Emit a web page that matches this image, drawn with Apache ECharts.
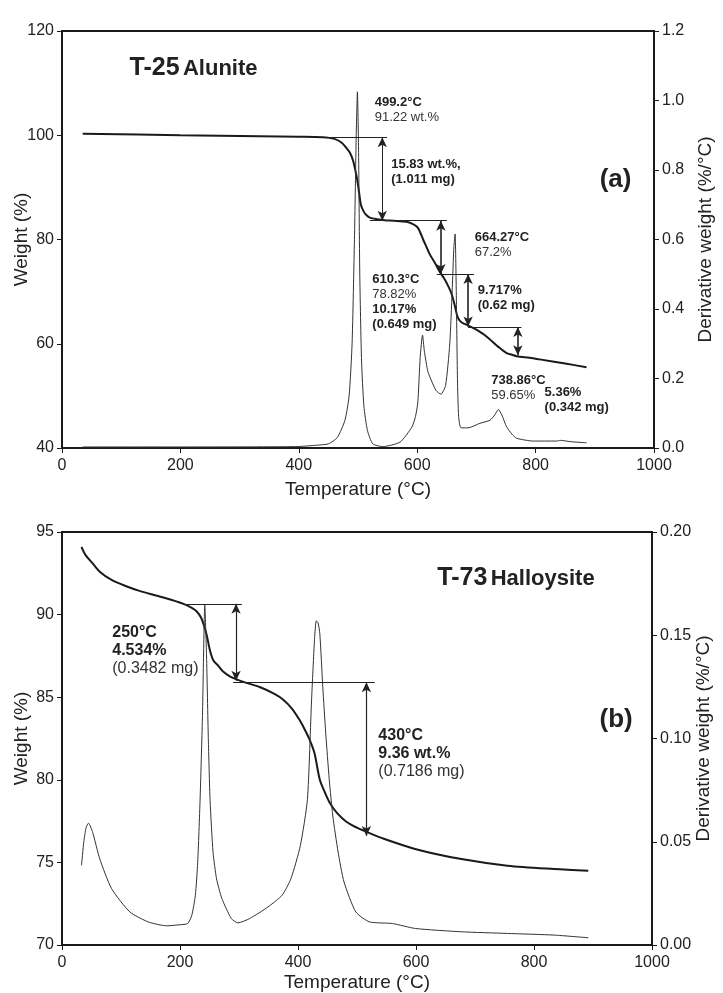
<!DOCTYPE html>
<html>
<head>
<meta charset="utf-8">
<script src="https://cdn.jsdelivr.net/npm/echarts@6/dist/echarts.min.js"></script>
<style>
    html, body { margin: 0; padding: 0; background: #fff; }
    #tgaChart { width: 723px; height: 993px; }
</style>
</head>
<body>
<div id="tgaChart"></div>
<script>
// (a) T-25 Alunite
var tgaTempA = [35, 200, 400, 440, 460, 472, 480, 487, 492, 496, 499, 502, 505, 510, 515, 520, 532, 545, 560, 582, 592, 600, 605, 610, 616, 622, 630, 638, 644, 650, 658, 664, 668, 673, 680, 690, 700, 717, 737, 751, 760, 768, 790, 807, 850, 886];
var tgaWeightA = [100.3, 100.0, 99.7, 99.6, 99.3, 98.6, 97.6, 96.5, 95.0, 93.0, 91.2, 88.9, 86.6, 85.3, 84.6, 84.2, 83.9, 83.7, 83.6, 83.4, 83.0, 82.4, 81.4, 80.0, 78.5, 77.0, 75.5, 73.8, 72.8, 71.6, 69.6, 67.1, 65.2, 64.3, 63.8, 63.3, 62.7, 61.4, 59.4, 58.2, 57.9, 57.6, 57.3, 57.0, 56.2, 55.5];
var dtgTempA = [35, 200, 395, 430, 450, 465, 478, 485, 490, 494, 497, 499, 501, 503, 506, 510, 516, 525, 542, 571, 591, 597, 601, 605, 609, 612, 618, 625, 632, 640, 648, 655, 659, 662, 664, 666, 668, 670, 674, 686, 706, 723, 731, 737, 743, 751, 760, 768, 796, 835, 842, 860, 886];
var dtgValueA = [0.003, 0.003, 0.004, 0.008, 0.012, 0.03, 0.08, 0.15, 0.3, 0.6, 0.9, 1.025, 0.85, 0.5, 0.25, 0.12, 0.05, 0.012, 0.004, 0.017, 0.06, 0.09, 0.13, 0.26, 0.325, 0.28, 0.22, 0.19, 0.165, 0.155, 0.18, 0.3, 0.45, 0.58, 0.616, 0.45, 0.2, 0.09, 0.058, 0.058, 0.071, 0.08, 0.095, 0.111, 0.095, 0.061, 0.04, 0.028, 0.02, 0.02, 0.022, 0.018, 0.015];
// step levels [from, to, weight] and arrows [temp, top, bottom]
var levelsA = [[440, 549, 99.6], [520, 650, 83.6], [633, 696, 73.4], [686, 776, 63.2]];
var arrowsA = [[541, 99.6, 83.6], [640, 83.6, 73.4], [686, 73.4, 63.3], [770, 63.2, 57.8]];
var notesA = [
    [529, 107.7, '{b|499.2°C}\n{r|91.22 wt.%}'],
    [557, 95.8, '{b|15.83 wt.%,}\n{b|(1.011 mg)}'],
    [698, 81.8, '{b|664.27°C}\n{r|67.2%}'],
    [525, 73.6, '{b|610.3°C}\n{r|78.82%}\n{b|10.17%}\n{b|(0.649 mg)}'],
    [703, 71.5, '{b|9.717%}\n{b|(0.62 mg)}'],
    [726, 54.4, '{b|738.86°C}\n{r|59.65%}'],
    [816, 52.1, '{b|5.36%}\n{b|(0.342 mg)}']
];

// (b) T-73 Halloysite
var tgaTempB = [33, 40, 52, 64, 84, 110, 130, 170, 206, 220, 228, 236, 240, 245, 251, 257, 265, 273, 285, 296, 310, 336, 360, 375, 390, 403, 412, 420, 428, 437, 446, 454, 466, 482, 500, 516, 540, 600, 677, 755, 834, 892];
var tgaWeightB = [94.1, 93.6, 93.1, 92.6, 92.1, 91.7, 91.45, 91.05, 90.65, 90.4, 90.2, 89.8, 89.4, 88.8, 87.8, 87.2, 86.9, 86.55, 86.25, 86.08, 85.9, 85.6, 85.2, 84.85, 84.3, 83.6, 83.0, 82.4, 81.6, 80.0, 79.2, 78.6, 78.0, 77.46, 77.1, 76.85, 76.5, 75.8, 75.2, 74.8, 74.6, 74.5];
var dtgTempB = [33, 37, 41, 45, 52, 64, 84, 115, 146, 177, 200, 213, 220, 226, 230, 234, 238, 242, 245, 248, 251, 256, 262, 271, 287, 298, 318, 349, 373, 388, 404, 416, 423, 428, 431, 434, 437, 442, 447, 453, 459, 468, 478, 498, 521, 560, 599, 677, 755, 834, 892];
var dtgValueB = [0.0385, 0.05, 0.057, 0.059, 0.0545, 0.0417, 0.0273, 0.016, 0.0112, 0.0093, 0.0098, 0.0104, 0.0144, 0.024, 0.04, 0.07, 0.11, 0.1646, 0.14, 0.1, 0.07, 0.045, 0.032, 0.0225, 0.0128, 0.0107, 0.0128, 0.0184, 0.0241, 0.0321, 0.0481, 0.0706, 0.1187, 0.148, 0.157, 0.156, 0.1508, 0.125, 0.1026, 0.08, 0.0625, 0.045, 0.0305, 0.016, 0.0112, 0.0104, 0.008, 0.0064, 0.0056, 0.0048, 0.0035];
var levelsB = [[205, 305, 90.65], [290, 530, 85.9]];
var arrowsB = [[295, 90.65, 86.0], [516, 85.9, 76.6]];
var notesB = [
    [86, 89.4, '{b|250°C}\n{b|4.534%}\n{r|(0.3482 mg)}'],
    [537, 83.2, '{b|430°C}\n{b|9.36 wt.%}\n{r|(0.7186 mg)}']
];

var FONT = "'Liberation Sans', Arial, sans-serif";
var INK = '#1a1a1a';

let zip = (xs, ys) => xs.map((x, i) => [x, ys[i]]);

let levelLines = (levels) => levels.map(l => [
    { coord: [l[0], l[2]], symbol: 'none' },
    { coord: [l[1], l[2]], symbol: 'none' }
]);
let arrowLines = (arrows, w) => arrows.map(a => [
    { coord: [a[0], a[1]], lineStyle: { width: w } },
    { coord: [a[0], a[2]] }
]);
let noteLabel = (fs, lh) => ({
    show: true, position: [0, 0], align: 'left', verticalAlign: 'top',
    fontFamily: FONT,
    rich: {
        b: { fontSize: fs, fontWeight: 'bold', color: '#222', lineHeight: lh, fontFamily: FONT },
        r: { fontSize: fs, color: '#333', lineHeight: lh, fontFamily: FONT }
    }
});
let notes = (list) => list.map(n => ({ coord: [n[0], n[1]], label: { formatter: n[2] } }));

function xAxisOf(idx, gap) {
    return {
        gridIndex: idx, type: 'value', min: 0, max: 1000, interval: 200,
        name: 'Temperature (°C)', nameLocation: 'middle', nameGap: gap, nameMoveOverlap: false,
        nameTextStyle: { fontFamily: FONT, fontSize: 19, color: '#222' },
        axisLine: { lineStyle: { color: INK, width: 2 } },
        axisTick: { length: 5, lineStyle: { color: INK, width: 1 } },
        axisLabel: { fontFamily: FONT, fontSize: 16, color: '#222', margin: 10, formatter: v => String(v) },
        splitLine: { show: false }
    };
}
function yAxisOf(idx, pos, min, max, step, name, digits) {
    return {
        gridIndex: idx, type: 'value', position: pos, min: min, max: max, interval: step,
        name: name, nameLocation: 'middle', nameGap: pos == 'left' ? 31 : 42, nameMoveOverlap: false,
        nameTextStyle: { fontFamily: FONT, fontSize: 19, color: '#222' },
        axisLine: { show: true, lineStyle: { color: INK, width: 2 } },
        axisTick: { show: true, length: 5, lineStyle: { color: INK, width: 1 } },
        axisLabel: {
            fontFamily: FONT, fontSize: 16, color: '#222', margin: 8,
            formatter: v => digits ? v.toFixed(digits) : String(v)
        },
        splitLine: { show: false }
    };
}

var chart = echarts.init(document.getElementById('tgaChart'), null, { renderer: 'canvas' });

var option = {
    animation: false,
    backgroundColor: '#fff',
    grid: [
        { left: 62, right: 69, top: 31, height: 417, containLabel: false, outerBoundsMode: 'none', show: true, borderColor: INK, borderWidth: 2 },
        { left: 62, right: 71, top: 532, height: 413, containLabel: false, outerBoundsMode: 'none', show: true, borderColor: INK, borderWidth: 2 }
    ],
    xAxis: [xAxisOf(0, 32), xAxisOf(1, 28)],
    yAxis: [
        yAxisOf(0, 'left', 40, 120, 20, 'Weight (%)', 0),
        yAxisOf(0, 'right', 0, 1.2, 0.2, 'Derivative weight (%/°C)', 1),
        yAxisOf(1, 'left', 70, 95, 5, 'Weight (%)', 0),
        yAxisOf(1, 'right', 0, 0.2, 0.05, 'Derivative weight (%/°C)', 2)
    ],
    series: [
        {
            name: 'TGA a', type: 'line', xAxisIndex: 0, yAxisIndex: 0,
            data: zip(tgaTempA, tgaWeightA), showSymbol: false, smooth: 0.3,
            lineStyle: { color: INK, width: 2 },
            markLine: {
                silent: true, symbol: ['arrow', 'arrow'], symbolSize: [7, 10],
                label: { show: false },
                lineStyle: { color: '#222', type: 'solid', width: 1 },
                data: levelLines(levelsA).concat(arrowLines(arrowsA.slice(0, 1), 1), arrowLines(arrowsA.slice(1), 1.6))
            },
            markPoint: {
                silent: true, symbol: 'rect', symbolSize: 1, itemStyle: { color: 'rgba(0,0,0,0)' },
                label: noteLabel(13, 15),
                data: notes(notesA).concat([
                    {
                        coord: [115, 112.7],
                        label: {
                            formatter: '{big|T-25} {small|Alunite}', verticalAlign: 'middle',
                            rich: {
                                big: { fontSize: 25, fontWeight: 'bold', color: '#222', fontFamily: FONT },
                                small: { fontSize: 22, fontWeight: 'bold', color: '#222', fontFamily: FONT }
                            }
                        }
                    },
                    {
                        coord: [909, 91.4],
                        label: { formatter: '(a)', verticalAlign: 'middle', fontSize: 26, fontWeight: 'bold', color: '#222' }
                    }
                ])
            }
        },
        {
            name: 'DTG a', type: 'line', xAxisIndex: 0, yAxisIndex: 1,
            data: zip(dtgTempA, dtgValueA), showSymbol: false, smooth: 0.2,
            lineStyle: { color: '#333', width: 1 }
        },
        {
            name: 'TGA b', type: 'line', xAxisIndex: 1, yAxisIndex: 2,
            data: zip(tgaTempB, tgaWeightB), showSymbol: false, smooth: 0.3,
            lineStyle: { color: INK, width: 2 },
            markLine: {
                silent: true, symbol: ['arrow', 'arrow'], symbolSize: [7, 10],
                label: { show: false },
                lineStyle: { color: '#222', type: 'solid', width: 1 },
                data: levelLines(levelsB).concat(arrowLines(arrowsB, 1.2))
            },
            markPoint: {
                silent: true, symbol: 'rect', symbolSize: 1, itemStyle: { color: 'rgba(0,0,0,0)' },
                label: noteLabel(16, 18),
                data: notes(notesB).concat([
                    {
                        coord: [637, 92.15],
                        label: {
                            formatter: '{big|T-73} {small|Halloysite}', verticalAlign: 'middle',
                            rich: {
                                big: { fontSize: 25, fontWeight: 'bold', color: '#222', fontFamily: FONT },
                                small: { fontSize: 22, fontWeight: 'bold', color: '#222', fontFamily: FONT }
                            }
                        }
                    },
                    {
                        coord: [912, 83.6],
                        label: { formatter: '(b)', verticalAlign: 'middle', fontSize: 26, fontWeight: 'bold', color: '#222' }
                    }
                ])
            }
        },
        {
            name: 'DTG b', type: 'line', xAxisIndex: 1, yAxisIndex: 3,
            data: zip(dtgTempB, dtgValueB), showSymbol: false, smooth: 0.2,
            lineStyle: { color: '#333', width: 1 }
        }
    ]
};

chart.setOption(option);
</script>
</body>
</html>
